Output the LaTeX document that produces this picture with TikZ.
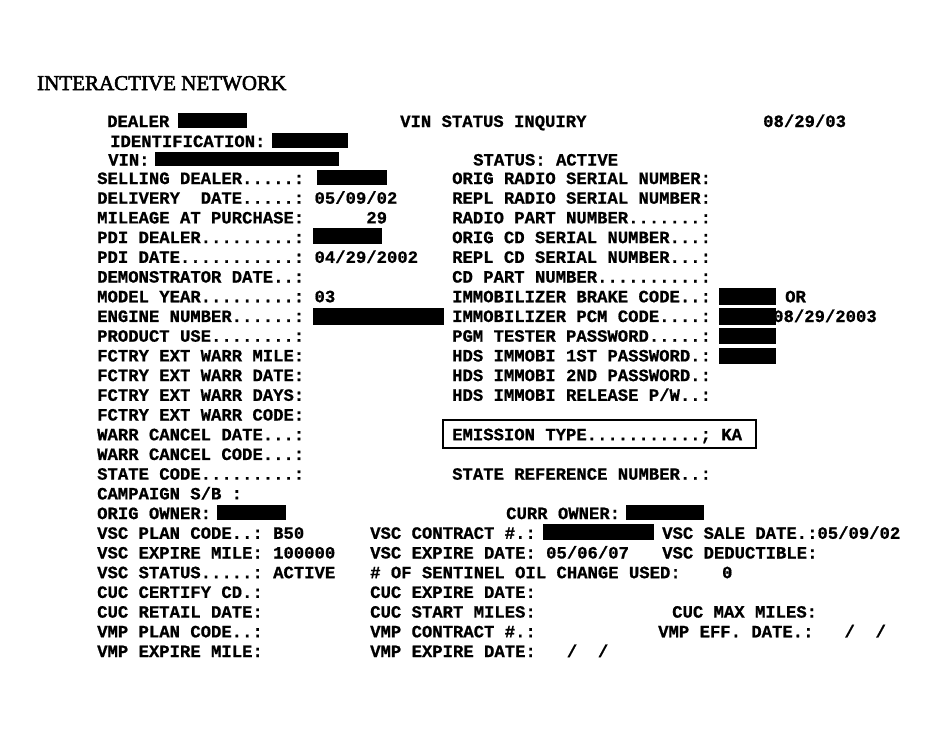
\documentclass[tikz,border=0pt]{standalone}
\usepackage{fontspec}
\newfontfamily\scrfont[FakeBold=0.8]{Liberation Mono Bold}
\newfontfamily\titlefont[FakeBold=2.5]{Liberation Serif}
\newcount\scrdotcount
\newcommand\scrdots[1]{\scrdotcount=#1\relax\loop\ifnum\scrdotcount>0 .\advance\scrdotcount by -1\repeat}
\frenchspacing
\begin{document}
\begin{tikzpicture}[x=1pt, y=-1pt,
  scr/.style={anchor=base west, inner sep=0pt, font=\scrfont\fontsize{17.25}{20}\selectfont},
  redact/.style={fill=black},
  emibox/.style={draw, line width=1.6pt}]
\useasboundingbox (0,0) rectangle (936,734);
\node[anchor=base west, inner sep=0pt, font=\titlefont\fontsize{21}{24}\selectfont] (title) at (37,90) {INTERACTIVE NETWORK};
% header lines
\node[scr] (dealer) at (107,127) {DEALER};
\node[scr] (inquiry) at (400,127) {VIN STATUS INQUIRY};
\node[scr] (today) at (763,127) {08/29/03};
\node[scr] (ident) at (110,147) {IDENTIFICATION:};
\node[scr] (vin) at (108,165.5) {VIN:};
\node[scr] (status) at (473,165.5) {STATUS: ACTIVE};
% left column
\foreach \txt [count=\i from 0] in {SELLING DEALER\scrdots{5}:, DELIVERY~~DATE\scrdots{5}:~05/09/02, MILEAGE AT PURCHASE:~~~~~~29, PDI DEALER\scrdots{9}:, PDI DATE\scrdots{11}:~04/29/2002, DEMONSTRATOR DATE\scrdots{2}:, MODEL YEAR\scrdots{9}:~03, ENGINE NUMBER\scrdots{6}:, PRODUCT USE\scrdots{8}:, FCTRY EXT WARR MILE:, FCTRY EXT WARR DATE:, FCTRY EXT WARR DAYS:, FCTRY EXT WARR CODE:, WARR CANCEL DATE\scrdots{3}:, WARR CANCEL CODE\scrdots{3}:, STATE CODE\scrdots{9}:, CAMPAIGN S/B~:, ORIG OWNER:, VSC PLAN CODE\scrdots{2}:~B50, VSC EXPIRE MILE:~100000, VSC STATUS\scrdots{5}:~ACTIVE, CUC CERTIFY CD.:, CUC RETAIL DATE:, VMP PLAN CODE\scrdots{2}:, VMP EXPIRE MILE:}
  \node[scr] (l\i) at (97,{184+19.71*\i}) {\txt};
% right column
\foreach \txt [count=\i from 0] in {ORIG RADIO SERIAL NUMBER:, REPL RADIO SERIAL NUMBER:, RADIO PART NUMBER\scrdots{7}:, ORIG CD SERIAL NUMBER\scrdots{3}:, REPL CD SERIAL NUMBER\scrdots{3}:, CD PART NUMBER\scrdots{10}:, IMMOBILIZER BRAKE CODE\scrdots{2}:, IMMOBILIZER PCM CODE\scrdots{4}:, PGM TESTER PASSWORD\scrdots{5}:, HDS IMMOBI 1ST PASSWORD.:, HDS IMMOBI 2ND PASSWORD.:, HDS IMMOBI RELEASE P/W\scrdots{2}:}
  \node[scr] (r\i) at (452,{184+19.71*\i}) {\txt};
\node[scr] (brakeor) at (785,302.3) {OR};
\node[scr] (pcmdate) at (773,322) {08/29/2003};
\node[scr] (emission) at (452,440.2) {EMISSION TYPE\scrdots{11};~KA};
\draw[emibox] (443,420) rectangle (756,448);
\node[scr] (stateref) at (452,479.7) {STATE REFERENCE NUMBER\scrdots{2}:};
\node[scr] (currowner) at (506,519.1) {CURR OWNER:};
% middle and right of the lower block
\foreach \txt [count=\i from 18] in {VSC CONTRACT \#.:, VSC EXPIRE DATE:~05/06/07, \# OF SENTINEL OIL CHANGE USED:~~~~0, CUC EXPIRE DATE:, CUC START MILES:, VMP CONTRACT \#.:, VMP EXPIRE DATE:~~~/~~/}
  \node[scr] (m\i) at (370,{184+19.71*\i}) {\txt};
\node[scr] (saledate) at (662,538.8) {VSC SALE DATE.:05/09/02};
\node[scr] (deduct) at (662,558.5) {VSC DEDUCTIBLE:};
\node[scr] (maxmiles) at (672,617.6) {CUC MAX MILES:};
\node[scr] (effdate) at (658,637.3) {VMP EFF. DATE.:~~~/~~/};
% blacked out values
\fill[redact] (178,113) rectangle (247,128);
\fill[redact] (272,133) rectangle (348,148);
\fill[redact] (155,152) rectangle (339,166);
\fill[redact] (317,170) rectangle (387,185);
\fill[redact] (313,228) rectangle (382,244);
\fill[redact] (313,308) rectangle (444,325);
\fill[redact] (719,288) rectangle (776,305);
\fill[redact] (719,308) rectangle (776,325);
\fill[redact] (719,328) rectangle (776,344);
\fill[redact] (719,348) rectangle (776,364);
\fill[redact] (217,505) rectangle (286,520);
\fill[redact] (626,505) rectangle (704,520);
\fill[redact] (543,524) rectangle (654,540);
\end{tikzpicture}
\end{document}
